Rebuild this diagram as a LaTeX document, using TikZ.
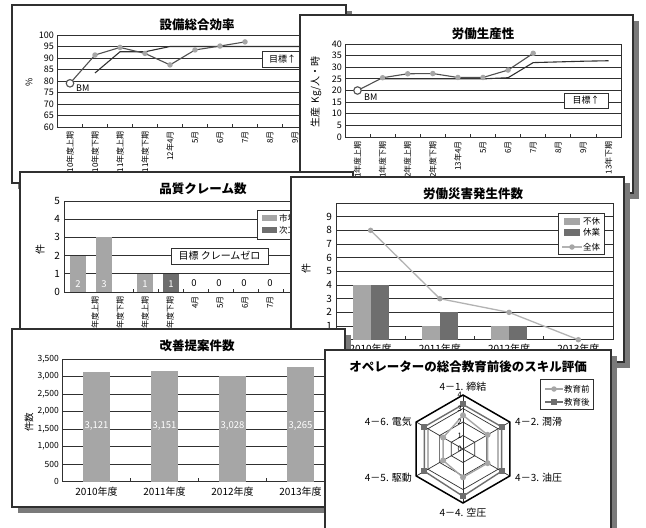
\documentclass[tikz,border=0pt]{standalone}
\usepackage{fontspec}
\setmainfont{Noto Sans CJK JP}
\definecolor{barlight}{HTML}{A6A6A6}
\definecolor{bardark}{HTML}{6E6E6E}
\definecolor{serline}{HTML}{505050}
\definecolor{gridc}{HTML}{303030}
\definecolor{shadowc}{HTML}{7A7A7A}
\tikzset{
  panel/.style={draw=gridc, fill=white, line width=1.1pt},
  gridl/.style={draw=gridc, line width=0.85pt},
  tickl/.style={font=\fontsize{9}{10}\selectfont, anchor=east, inner sep=1pt},
  catl/.style={font=\fontsize{8}{9}\selectfont, rotate=90, anchor=east, inner sep=0pt},
  ttl/.style={font=\fontsize{12.5}{14}\selectfont\bfseries, inner sep=0pt},
  axl/.style={font=\fontsize{9}{10}\selectfont, rotate=90, inner sep=0pt},
  small/.style={font=\fontsize{8.5}{9}\selectfont, inner sep=0pt},
  vall/.style={font=\fontsize{9.5}{10}\selectfont, inner sep=0pt},
  sdot/.style={circle, fill=barlight, inner sep=0pt, minimum size=5.5pt},
  sqm/.style={rectangle, fill=bardark, inner sep=0pt, minimum size=6pt},
  bm/.style={circle, draw=serline, fill=white, line width=1.1pt, inner sep=0pt, minimum size=7.5pt},
  notebox/.style={draw=gridc, fill=white, line width=0.9pt},
}
\newcommand{\panelbox}[4]{%
  \fill[shadowc] ({#1+6},{#2+6}) rectangle ({#3+6},{#4+6});
  \draw[panel] (#1,#2) rectangle (#3,#4);}
\begin{document}
\begin{tikzpicture}[x=1pt,y=-1pt]
\useasboundingbox (0,0) rectangle (646,528);

\panelbox{12}{5}{346}{183}
\begin{scope}
\clip (12,5) rectangle (346,183);
\node[ttl] (t1) at (197,25) {設備総合効率};
\foreach \v in {60,65,...,100} {
  \draw[gridl] (57,{35+(100-\v)*2.3}) -- (340,{35+(100-\v)*2.3});
  \node[tickl] (a1y\v) at (55,{35+(100-\v)*2.3}) {\v};
}
\draw[gridl] (57,35) -- (57,127);
\foreach \k in {1,...,11} \draw[gridl] ({57+25*\k},127) -- ({57+25*\k},124);
\foreach \lab [count=\i from 0] in {10年度上期,10年度下期,11年度上期,11年度下期,12年4月,5月,6月,7月,8月,9月}
  \node[catl] (a1x\i) at ({70+25*\i},131) {\lab};
\node[axl] (a1t) at (29,82) {\%};
\draw[notebox] (262,51) rectangle (324,67);
\node[small, anchor=west, font=\fontsize{9}{10}\selectfont] (g1l) at (269,59) {目標↑};
\foreach \v [count=\i from 1] in {83.5,92.7,92.7,95} \coordinate (g1p\i) at ({70+25*\i},{35+(100-\v)*2.3});
\draw[gridc, line width=1.1pt] (g1p1) -- (g1p2) -- (g1p3) -- (g1p4) -- (340,46.5);
\foreach \v [count=\i from 0] in {79,91.3,94.6,92,87,93.5,95.2,97} \coordinate (s1p\i) at ({70+25*\i},{35+(100-\v)*2.3});
\draw[serline, line width=1.1pt] (s1p0) \foreach \i in {1,...,7} {-- (s1p\i)};
\foreach \i in {1,...,7} \node[sdot] (d1\i) at (s1p\i) {};
\node[bm] (bm1) at (s1p0) {};
\node[small, anchor=west, font=\fontsize{9}{10}\selectfont] (bm1l) at (76,88) {BM};
\end{scope}

\panelbox{300}{15}{633}{193}
\begin{scope}
\clip (300,15) rectangle (633,193);
\node[ttl] (t2) at (483,34) {労働生産性};
\foreach \v in {0,5,...,40} {
  \draw[gridl] (345,{137-2.325*\v}) -- (621,{137-2.325*\v});
  \node[tickl] (a2y\v) at (343,{137-2.325*\v}) {\v};
}
\draw[gridl] (345,44) rectangle (621,137);
\foreach \k in {1,...,10} \draw[gridl] ({345+25.1*\k},137) -- ({345+25.1*\k},134);
\foreach \lab [count=\i from 0] in {11年度上期,11年度下期,12年度上期,12年度下期,13年4月,5月,6月,7月,8月,9月,13年下期}
  \node[catl] (a2x\i) at ({357.5+25.1*\i},141) {\lab};
\node[axl, font=\fontsize{10}{11}\selectfont] (a2t) at (316,92) {生産\ \ Kg/人・時};
\draw[notebox] (564,93) rectangle (608,108);
\node[small, font=\fontsize{9}{10}\selectfont] (g2l) at (586,100.5) {目標↑};
\foreach \v [count=\i from 1] in {25,25,25,25,25,25.5,32,32.3,32.6,32.8} \coordinate (g2p\i) at ({357.5+25.1*\i},{137-2.325*\v});
\draw[gridc, line width=1.1pt] (g2p1) \foreach \i in {2,...,10} {-- (g2p\i)};
\foreach \v [count=\i from 0] in {20,25.5,27.2,27.3,25.6,25.6,28.8,36} \coordinate (s2p\i) at ({357.5+25.1*\i},{137-2.325*\v});
\draw[serline, line width=1.1pt] (s2p0) \foreach \i in {1,...,7} {-- (s2p\i)};
\foreach \i in {1,...,7} \node[sdot] (d2\i) at (s2p\i) {};
\node[bm] (bm2) at (s2p0) {};
\node[small, anchor=west, font=\fontsize{9}{10}\selectfont] (bm2l) at (364,97) {BM};
\end{scope}

\panelbox{20}{172}{353}{340}
\begin{scope}
\clip (20,172) rectangle (353,340);
\node[ttl] (t3) at (203,189) {品質クレーム数};
\foreach \v in {0,...,5} {
  \draw[gridl] (64,{292-18.2*\v}) -- (345,{292-18.2*\v});
  \node[tickl, font=\fontsize{10}{11}\selectfont] (a3y\v) at (61,{292-18.2*\v}) {\v};
}
\draw[gridl] (64,201) -- (64,292);
\foreach \k in {0,...,8} \draw[gridl] ({133+25*\k},292) -- ({133+25*\k},289);
\foreach \lab [count=\i from 0] in {10年度上期,10年度下期,11年度上期,11年度下期,4月,5月,6月,7月,8月}
  \node[catl] (a3x\i) at ({95+25*\i},296) {\lab};
\node[axl, font=\fontsize{10}{11}\selectfont] (a3t) at (40,249) {件};
\fill[barlight] (70,{292-18.2*2}) rectangle (86,292);
\fill[barlight] (96,{292-18.2*3}) rectangle (112,292);
\fill[barlight] (137,{292-18.2}) rectangle (153,292);
\fill[bardark] (163,{292-18.2}) rectangle (179,292);
\foreach \x/\n [count=\i] in {78/2,104/3,145/1,171/1} \node[vall, text=white] (v3\i) at (\x,284) {\n};
\foreach \x [count=\i] in {194,219,244,270} \node[vall] (z3\i) at (\x,283) {0};
\draw[notebox] (171,248) rectangle (268,264);
\node[small, font=\fontsize{10}{11}\selectfont] (g3l) at (219.5,256) {目標 クレームゼロ};
\draw[notebox] (257,210) rectangle (320,239);
\fill[barlight] (262,215) rectangle (277,221);
\fill[bardark] (262,227) rectangle (277,233);
\node[small, anchor=west] (l3a) at (279,218) {市場};
\node[small, anchor=west] (l3b) at (279,230) {次工程};
\end{scope}

\panelbox{291}{177}{624}{362}
\begin{scope}
\clip (291,177) rectangle (624,362);
\node[ttl] (t4) at (473,194) {労働災害発生件数};
\foreach \v in {1,...,9} {
  \draw[gridl] (336,{339.7-13.67*\v}) -- (613,{339.7-13.67*\v});
  \node[tickl, font=\fontsize{10}{11}\selectfont] (a4y\v) at (333,{339.7-13.67*\v}) {\v};
}
\draw[gridl] (336,203) rectangle (613,339.7);
\foreach \k in {1,...,3} \draw[gridl] ({336+69.25*\k},339.7) -- ({336+69.25*\k},335.7);
\node[axl, font=\fontsize{10}{11}\selectfont] (a4t) at (306,268) {件};
\foreach \a/\b [count=\i from 0] in {4/4,1/2,1/1} {
  \fill[barlight] ({352.6+69.25*\i},{339.7-13.67*\a}) rectangle ({370.6+69.25*\i},339.7);
  \fill[bardark] ({370.6+69.25*\i},{339.7-13.67*\b}) rectangle ({388.6+69.25*\i},339.7);
}
\foreach \v [count=\i from 0] in {8,3,2,0} \coordinate (s4p\i) at ({370.6+69.25*\i},{339.7-13.67*\v});
\draw[barlight!85!white, line width=1.3pt] (s4p0) -- (s4p1) -- (s4p2) -- (s4p3);
\foreach \i in {0,...,3} \node[sdot] (d4\i) at (s4p\i) {};
\foreach \lab [count=\i from 0] in {2010年度,2011年度,2012年度,2013年度}
  \node[vall, font=\fontsize{10}{11}\selectfont] (a4x\i) at ({370.6+69.25*\i},349) {\lab};
\draw[notebox] (558,213) rectangle (604,254);
\fill[barlight] (564,218) rectangle (580,225);
\fill[bardark] (564,229) rectangle (580,236);
\draw[barlight!85!white, line width=1.3pt] (562,247) -- (582,247);
\node[sdot] (l4d) at (572,247) {};
\node[small, anchor=west] (l4a) at (583,221.5) {不休};
\node[small, anchor=west] (l4b) at (583,232.5) {休業};
\node[small, anchor=west] (l4c) at (583,247) {全体};
\end{scope}

\panelbox{12}{329}{345}{507}
\begin{scope}
\clip (12,329) rectangle (345,507);
\node[ttl] (t5) at (197,346) {改善提案件数};
\foreach \v/\s in {0/0,500/500,1000/1{,}000,1500/1{,}500,2000/2{,}000,2500/2{,}500,3000/3{,}000,3500/3{,}500} {
  \draw[gridl] (62,{481.7-0.035*\v}) -- (334,{481.7-0.035*\v});
  \node[tickl, font=\fontsize{8.5}{9}\selectfont] (a5y\v) at (60,{481.7-0.035*\v}) {\s};
}
\draw[gridl] (62,359) -- (62,481.7);
\foreach \k in {1,...,3} \draw[gridl] ({62+68*\k},481.7) -- ({62+68*\k},477.7);
\node[axl, font=\fontsize{9.5}{10}\selectfont] (a5t) at (29,422) {件数};
\foreach \v/\s [count=\i from 0] in {3121/3{,}121,3151/3{,}151,3028/3{,}028,3265/3{,}265} {
  \fill[barlight] ({83+68*\i},{481.7-0.035*\v}) rectangle ({110+68*\i},481.7);
  \node[vall, text=white] (v5\i) at ({96.5+68*\i},426) {\s};
}
\foreach \lab [count=\i from 0] in {2010年度,2011年度,2012年度,2013年度}
  \node[vall, font=\fontsize{10}{11}\selectfont] (a5x\i) at ({96.5+68*\i},492) {\lab};
\end{scope}

\panelbox{325}{350}{611}{545}
\node[ttl] (t6) at (468,367) {オペレーターの総合教育前後のスキル評価};
\begin{scope}[shift={(463,449)}, y=1pt]
\foreach \r in {1,2,3} \draw[gridl, line width=0.7pt] (90:{13.5*\r}) \foreach \a in {30,-30,-90,-150,150} {-- (\a:{13.5*\r})} -- cycle;
\foreach \a in {90,30,-30,-90,-150,150} \draw[gridl, line width=0.7pt] (0,0) -- (\a:54);
\draw[black, line width=1.5pt] (90:54) \foreach \a in {30,-30,-90,-150,150} {-- (\a:54)} -- cycle;
\foreach \v [count=\i from 0] in {2.5,2.1,2.1,2.1,1.7,1.7} \coordinate (rb\i) at ({90-60*\i}:{13.5*\v});
\foreach \v [count=\i from 0] in {3.3,3.3,3.3,3.5,3.3,3.3} \coordinate (ra\i) at ({90-60*\i}:{13.5*\v});
\draw[barlight, line width=1.4pt] (rb0) \foreach \i in {1,...,5} {-- (rb\i)} -- cycle;
\draw[bardark, line width=1.4pt] (ra0) \foreach \i in {1,...,5} {-- (ra\i)} -- cycle;
\foreach \i in {0,...,5} {
  \node[sdot, minimum size=6pt] (mb\i) at (rb\i) {};
  \node[sqm] (ma\i) at (ra\i) {};
}
\foreach \v in {0,...,4} \node[anchor=east, inner sep=0.5pt, font=\fontsize{7.5}{8}\selectfont] (rt\v) at (-0.5,{13.5*\v}) {\v};
\node[font=\fontsize{10}{11}\selectfont, inner sep=0pt] (ax1) at (0,62) {4－1. 締結};
\node[font=\fontsize{10}{11}\selectfont, inner sep=0pt, anchor=west] (ax2) at (52,27) {4－2. 潤滑};
\node[font=\fontsize{10}{11}\selectfont, inner sep=0pt, anchor=west] (ax3) at (52,-29) {4－3. 油圧};
\node[font=\fontsize{10}{11}\selectfont, inner sep=0pt] (ax4) at (0,-64) {4－4. 空圧};
\node[font=\fontsize{10}{11}\selectfont, inner sep=0pt, anchor=east] (ax5) at (-51,-29) {4－5. 駆動};
\node[font=\fontsize{10}{11}\selectfont, inner sep=0pt, anchor=east] (ax6) at (-51,27) {4－6. 電気};
\end{scope}
\draw[notebox] (540,379) rectangle (593,409);
\draw[barlight, line width=1.3pt] (545,389) -- (563,389);
\node[sdot] (l6d) at (554,389) {};
\draw[bardark, line width=1.3pt] (545,402) -- (563,402);
\node[sqm, minimum size=5.5pt] (l6s) at (554,402) {};
\node[small, anchor=west] (l6a) at (564,389) {教育前};
\node[small, anchor=west] (l6b) at (564,402) {教育後};
\end{tikzpicture}
\end{document}
